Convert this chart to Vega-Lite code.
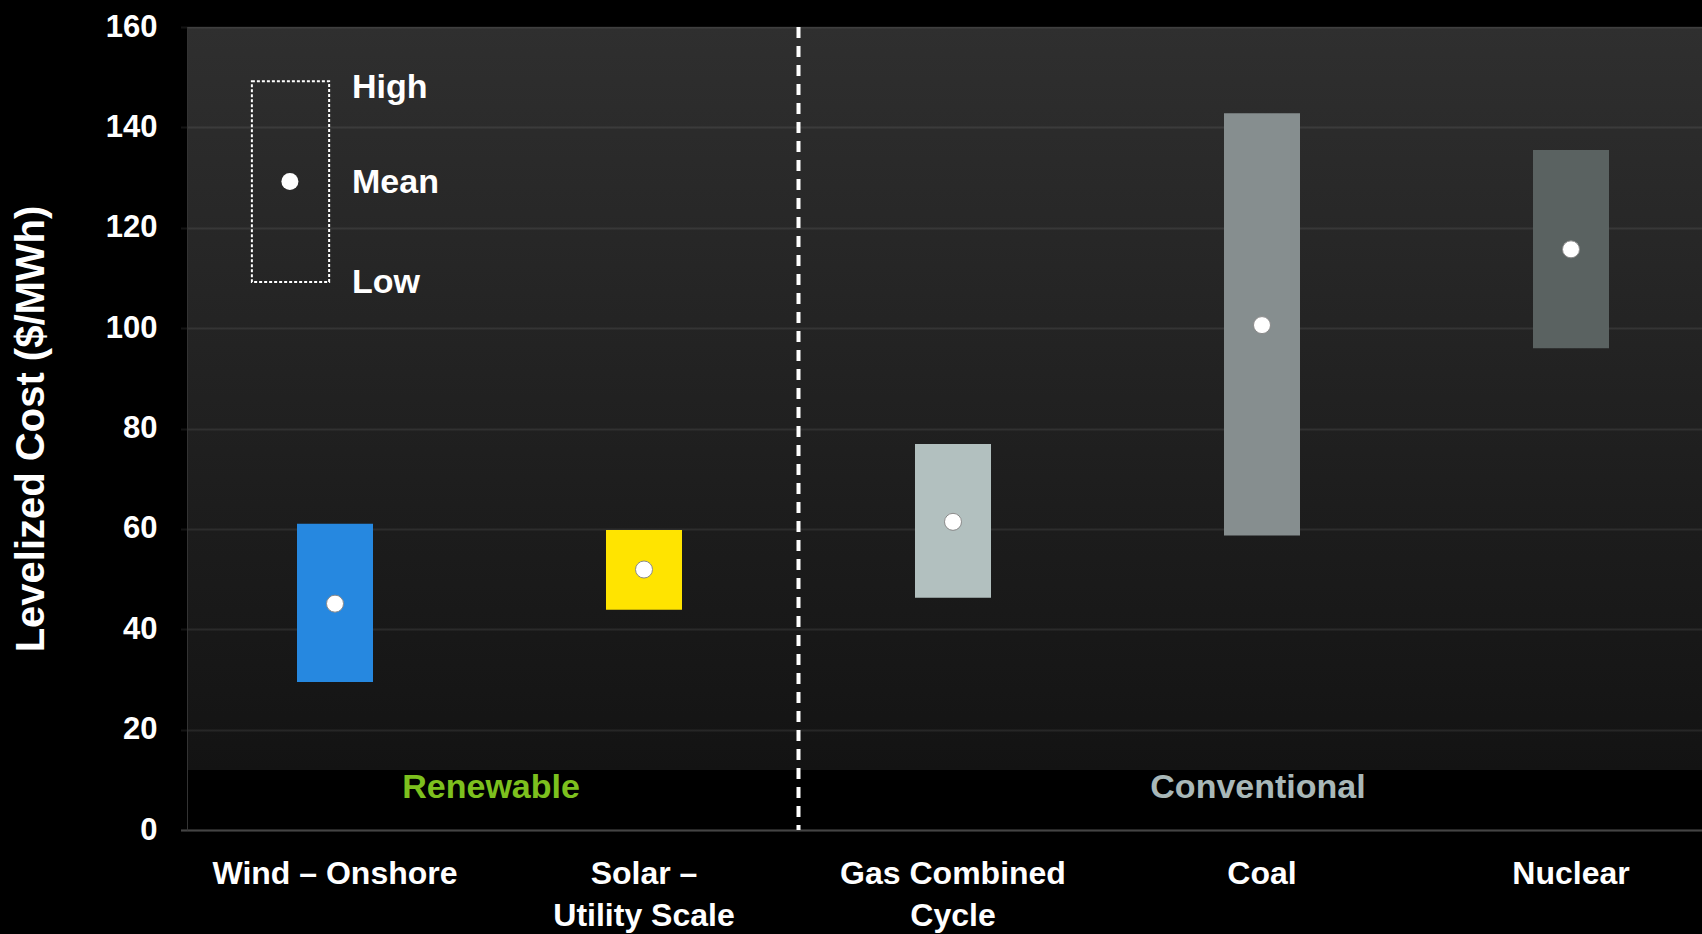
{
  "$schema": "https://vega.github.io/schema/vega-lite/v6.json",
  "width": 1515,
  "height": 803,
  "autosize": {"type": "none"},
  "padding": {"left": 187, "top": 27, "right": 0, "bottom": 104},
  "background": "#000000",
  "config": {
    "view": {
      "stroke": null,
      "fill": {
        "gradient": "linear", "x1": 0, "y1": 0, "x2": 0, "y2": 1,
        "stops": [
          {"offset": 0, "color": "#2f2f2f"},
          {"offset": 0.925, "color": "#131313"},
          {"offset": 0.925, "color": "#000000"},
          {"offset": 1, "color": "#000000"}
        ]
      }
    },
    "font": "Liberation Sans",
    "text": {"font": "Liberation Sans", "fontWeight": "bold"}
  },
  "datasets": {
    "costs": [
      {"tech": "Wind – Onshore", "low": 29.5, "mean": 45.1, "high": 61.0},
      {"tech": "Solar – Utility Scale", "low": 43.9, "mean": 51.9, "high": 59.8},
      {"tech": "Gas Combined Cycle", "low": 46.3, "mean": 61.4, "high": 76.9},
      {"tech": "Coal", "low": 58.7, "mean": 100.6, "high": 142.8},
      {"tech": "Nuclear", "low": 96.0, "mean": 115.7, "high": 135.5}
    ],
    "legend": [
      {"label": "High", "value": 147.8},
      {"label": "Mean", "value": 129.0},
      {"label": "Low", "value": 108.9}
    ]
  },
  "layer": [
    {
      "data": {"name": "costs"},
      "encoding": {
        "x": {
          "field": "tech", "type": "nominal", "sort": null,
          "scale": {"range": [-6.5, 1538.5], "paddingInner": 0, "paddingOuter": 0},
          "axis": {
            "title": null,
            "labelExpr": "datum.value == 'Solar – Utility Scale' ? ['Solar –', 'Utility Scale'] : datum.value == 'Gas Combined Cycle' ? ['Gas Combined', 'Cycle'] : datum.label",
            "labelFont": "Liberation Sans", "labelFontSize": 32, "labelFontWeight": "bold",
            "labelColor": "#ffffff", "labelPadding": 28, "labelLineHeight": 42,
            "labelAngle": 0, "labelOverlap": false, "labelBound": false, "labelLimit": 0,
            "ticks": false, "domainColor": "#444444", "domainWidth": 2, "grid": false
          }
        }
      },
      "layer": [
        {
          "mark": {"type": "bar", "width": {"band": 0.246}},
          "encoding": {
            "y": {
              "field": "low", "type": "quantitative",
              "scale": {"domain": [0, 160], "nice": false, "zero": true},
              "axis": {
                "values": [0, 20, 40, 60, 80, 100, 120, 140, 160],
                "title": "Levelized Cost ($/MWh)",
                "titleFont": "Liberation Sans", "titleFontSize": 40, "titleFontWeight": "bold",
                "titleColor": "#ffffff", "titlePadding": 54,
                "labelFont": "Liberation Sans", "labelFontSize": 31, "labelFontWeight": "bold",
                "labelColor": "#ffffff", "labelPadding": 30,
                "ticks": false, "domainColor": "#333333", "domainWidth": 1,
                "grid": true, "gridColor": "#ffffff", "gridOpacity": 0.08, "gridWidth": 2
              }
            },
            "y2": {"field": "high"},
            "color": {
              "field": "tech", "type": "nominal", "sort": null,
              "scale": {
                "domain": ["Wind – Onshore", "Solar – Utility Scale", "Gas Combined Cycle", "Coal", "Nuclear"],
                "range": ["#2688E0", "#FFE400", "#B2C0BF", "#868E8F", "#5A6261"]
              },
              "legend": null
            }
          }
        },
        {
          "mark": {"type": "point", "filled": true, "size": 290, "color": "#ffffff", "stroke": "#8a8a8a", "strokeWidth": 1, "opacity": 1},
          "encoding": {
            "y": {"field": "mean", "type": "quantitative"}
          }
        }
      ]
    },
    {
      "layer": [
        {
          "data": {"values": [{}]},
          "mark": {"type": "rule", "color": "#ffffff", "strokeWidth": 4, "strokeDash": [11, 8]},
          "encoding": {
            "x": {"datum": 1.5, "type": "quantitative", "scale": {"domain": [-0.479, 4.424], "nice": false, "zero": false}, "axis": null}
          }
        },
        {
          "data": {"values": [{}]},
          "mark": {"type": "rect", "filled": false, "stroke": "#ffffff", "strokeWidth": 2, "strokeDash": [3, 2]},
          "encoding": {
            "x": {"datum": -0.269, "type": "quantitative", "scale": {"domain": [-0.479, 4.424], "nice": false, "zero": false}, "axis": null},
            "x2": {"datum": -0.019},
            "y": {"datum": 109.2, "type": "quantitative"},
            "y2": {"datum": 149.2}
          }
        },
        {
          "data": {"values": [{}]},
          "mark": {"type": "point", "filled": true, "size": 290, "color": "#ffffff", "opacity": 1},
          "encoding": {
            "x": {"datum": -0.146, "type": "quantitative", "scale": {"domain": [-0.479, 4.424], "nice": false, "zero": false}, "axis": null},
            "y": {"datum": 129.2, "type": "quantitative"}
          }
        },
        {
          "data": {"name": "legend"},
          "mark": {"type": "text", "align": "left", "baseline": "middle", "fontSize": 34, "fontWeight": "bold", "color": "#ffffff"},
          "encoding": {
            "x": {"datum": 0.055, "type": "quantitative", "scale": {"domain": [-0.479, 4.424], "nice": false, "zero": false}, "axis": null},
            "y": {"field": "value", "type": "quantitative"},
            "text": {"field": "label"}
          }
        },
        {
          "data": {"values": [{}]},
          "mark": {"type": "text", "align": "center", "baseline": "middle", "fontSize": 34, "fontWeight": "bold", "color": "#7DC01E", "text": "Renewable"},
          "encoding": {
            "x": {"datum": 0.505, "type": "quantitative", "scale": {"domain": [-0.479, 4.424], "nice": false, "zero": false}, "axis": null},
            "y": {"datum": 8.4, "type": "quantitative"}
          }
        },
        {
          "data": {"values": [{}]},
          "mark": {"type": "text", "align": "center", "baseline": "middle", "fontSize": 34, "fontWeight": "bold", "color": "#A9B8B8", "text": "Conventional"},
          "encoding": {
            "x": {"datum": 2.987, "type": "quantitative", "scale": {"domain": [-0.479, 4.424], "nice": false, "zero": false}, "axis": null},
            "y": {"datum": 8.4, "type": "quantitative"}
          }
        }
      ]
    }
  ],
  "resolve": {"scale": {"x": "independent"}}
}
